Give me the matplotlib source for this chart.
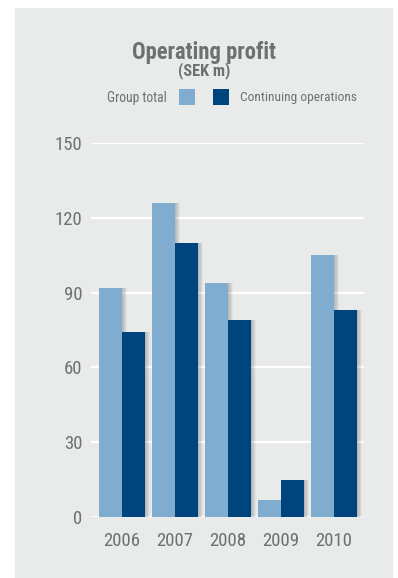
import numpy as np
import matplotlib
matplotlib.use("Agg")
import matplotlib.pyplot as plt

# Operating profit (SEK m)
years = ["2006", "2007", "2008", "2009", "2010"]
group_total = [92, 126, 94, 7, 105]
continuing_ops = [74, 110, 79, 15, 83]
y_ticks = [0, 30, 60, 90, 120, 150]

light_blue = "#7FACCF"
dark_blue = "#00447E"
panel_bg = "#E9EAEA"
text_grey = "#6F7072"

plt.rcParams["font.family"] = ["Roboto Condensed", "DejaVu Sans"]
plt.rcParams["font.stretch"] = "condensed"

fig = plt.figure(figsize=(3.98, 5.78), dpi=100)
fig.patch.set_facecolor("white")

# grey panel behind everything
fig.patches.append(plt.Rectangle((15 / 398, 0), 378 / 398, 1 - 8 / 578,
                                 transform=fig.transFigure, facecolor=panel_bg,
                                 edgecolor="none", zorder=-5))

ax = fig.add_axes([91 / 398, 1 - 517 / 578, 273 / 398, 374 / 578])
ax.set_facecolor("none")
ax.set_zorder(2)

x = np.arange(len(years))
w = 0.434

# soft drop shadows to the right of the bars
for k in range(8):
    off = 0.012 * (k + 1)
    ax.bar(x - w / 2 + off, group_total, w, color="black", alpha=0.028, zorder=2, linewidth=0)
    ax.bar(x + w / 2 + off, continuing_ops, w, color="black", alpha=0.028, zorder=2, linewidth=0)

ax.bar(x - w / 2, group_total, w, color=light_blue, zorder=3, linewidth=0)
ax.bar(x + w / 2, continuing_ops, w, color=dark_blue, zorder=3, linewidth=0)

for t in y_ticks:
    ax.axhline(t, color="white", lw=1.6 if t else 2.0, zorder=1)

ax.set_xlim(-0.585, 4.566)
ax.set_ylim(0, 150)
ax.set_yticks(y_ticks)
ax.set_xticks(x)
ax.set_xticklabels(years)
ax.tick_params(axis="both", length=0, labelsize=13.5, colors=text_grey)
ax.tick_params(axis="y", pad=6)
ax.tick_params(axis="x", pad=11)
for s in ax.spines.values():
    s.set_visible(False)

# title and legend
fig.text(204 / 398, 1 - 52 / 578, "Operating profit", ha="center", va="center",
         fontsize=16.3, fontweight="bold", color=text_grey)
fig.text(204 / 398, 1 - 71 / 578, "(SEK m)", ha="center", va="center",
         fontsize=11.8, fontweight="bold", color=text_grey)

fig.text(167 / 398, 1 - 98 / 578, "Group total", ha="right", va="center",
         fontsize=9.8, color=text_grey)
fig.patches.append(plt.Rectangle((179 / 398, 1 - 105 / 578), 16 / 398, 16 / 578,
                                 transform=fig.transFigure, facecolor=light_blue,
                                 edgecolor="none"))
fig.patches.append(plt.Rectangle((213 / 398, 1 - 105 / 578), 16 / 398, 16 / 578,
                                 transform=fig.transFigure, facecolor=dark_blue,
                                 edgecolor="none"))
fig.text(240 / 398, 1 - 98 / 578, "Continuing operations", ha="left", va="center",
         fontsize=9.6, color=text_grey)

fig.savefig("out.png", dpi=100, facecolor=fig.get_facecolor())
